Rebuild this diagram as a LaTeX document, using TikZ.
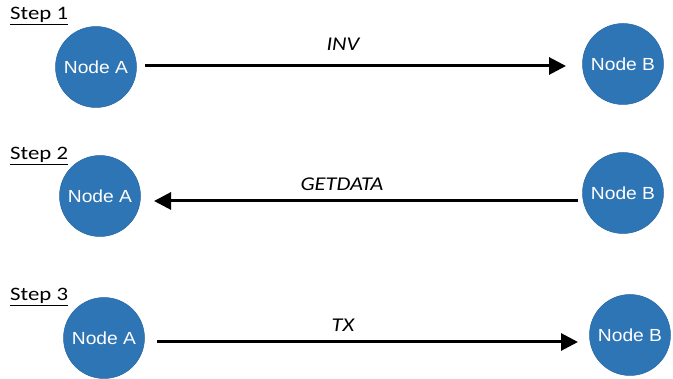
\documentclass[tikz,border=0pt]{standalone}
\usepackage{fontspec}
\setmainfont{Carlito}
\newfontfamily\nodefont{Liberation Sans}
\usetikzlibrary{arrows.meta}
\definecolor{nodeblue}{RGB}{46,117,182}
\newcommand{\wide}[2]{\scalebox{#1}[1]{#2}}
\tikzset{
  circnode/.style={circle, fill=nodeblue, draw=nodeblue!90!black, line width=0.5pt, minimum size=81pt, inner sep=0pt, text=white, font=\nodefont\fontsize{17.5}{17.5}\selectfont},
  steplabel/.style={anchor=west, inner sep=0pt, font=\fontsize{19}{19}\selectfont},
  msglabel/.style={inner sep=0pt, font=\itshape\fontsize{19.5}{19.5}\selectfont},
  msgarrow/.style={line width=3pt, -{Triangle[length=17pt,width=17pt]}, shorten >=2pt}
}
\begin{document}
\begin{tikzpicture}[x=1pt,y=-1pt]
\useasboundingbox (0,0) rectangle (673,379);
% Step 1
\node[steplabel] (s1) at (10,16) {\wide{1.2}{\underline{Step 1}}};
\node[circnode] (a1) at (96,67) {\wide{1.1}{Node A}};
\node[circnode] (b1) at (623,64) {\wide{1.1}{Node B}};
\node[msglabel] (l1) at (343,44) {\wide{1.15}{INV}};
\draw[msgarrow] (145,66) coordinate (a1s) -- (568,66) coordinate (a1e);
% Step 2
\node[steplabel] (s2) at (10,156) {\wide{1.2}{\underline{Step 2}}};
\node[circnode] (a2) at (100,196) {\wide{1.1}{Node A}};
\node[circnode] (b2) at (623,193) {\wide{1.1}{Node B}};
\node[msglabel] (l2) at (342,184) {\wide{1.15}{GETDATA}};
\draw[msgarrow] (578,201) coordinate (b2s) -- (152,201) coordinate (b2e);
% Step 3
\node[steplabel] (s3) at (10,297) {\wide{1.2}{\underline{Step 3}}};
\node[circnode] (a3) at (104,338) {\wide{1.1}{Node A}};
\node[circnode] (b3) at (630,335) {\wide{1.1}{Node B}};
\node[msglabel] (l3) at (343,325) {\wide{1.15}{TX}};
\draw[msgarrow] (157,342) coordinate (a3s) -- (580,342) coordinate (a3e);
\end{tikzpicture}
\end{document}
